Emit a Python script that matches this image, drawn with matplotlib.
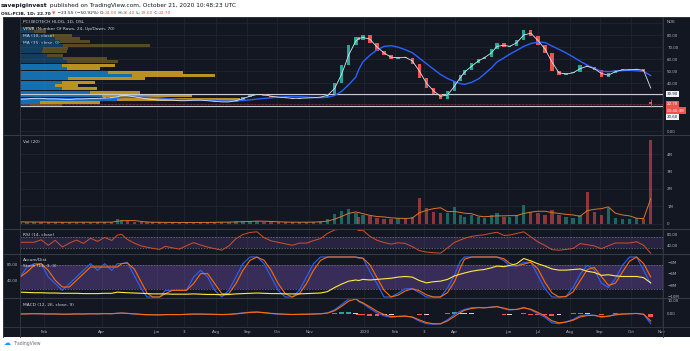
import numpy as np
import pandas as pd
import matplotlib
matplotlib.use("Agg")
import matplotlib.pyplot as plt
from matplotlib.transforms import blended_transform_factory
from matplotlib.lines import Line2D
from matplotlib.patches import Rectangle

# ---------------- data (weekly samples) ----------------
WEEK_START = "2019-01-11"
WEEK_END = "2020-10-16"
LAST_DATE = "2020-10-21"

CLOSE = [
    26.5, 27.0, 27.5,
    27.0, 26.5, 27.0, 26.0,
    26.5, 27.0, 26.5, 27.5, 27.0,
    28.0, 27.5, 29.5, 30.0,
    29.0, 28.0, 27.0, 26.5, 26.0,
    25.5, 26.0, 25.5, 25.0,
    25.5, 26.0, 25.5, 25.0,
    24.5, 24.0, 24.5, 26.0, 28.0,
    30.0, 31.0, 29.5, 28.5,
    28.0, 27.5, 27.0, 27.5,
    27.5, 28.0, 28.5, 31.0, 40.0,
    55.0, 72.0, 78.0, 76.0,
    80.0, 73.0, 67.0, 63.0, 60.0,
    62.0, 61.0, 56.0, 44.0,
    36.0, 31.0, 27.0, 33.0,
    42.0, 47.0, 51.0, 57.0,
    60.0, 62.0, 68.0, 73.0, 70.0,
    71.0, 76.0, 84.0, 79.0,
    72.0, 65.0, 50.0, 47.0, 48.0,
    49.0, 55.0, 53.0, 51.0,
    45.0, 48.0, 51.0, 51.0,
    51.0, 52.0, 49.0, 22.7,
]
FIRST_OPEN = 26.0
LAST_OHLC = (24.00, 26.40, 19.60, 22.70)

VOLUME_M = [
    0.12, 0.10, 0.11,
    0.09, 0.10, 0.09, 0.10,
    0.09, 0.11, 0.09, 0.10, 0.09,
    0.12, 0.10, 0.30, 0.22,
    0.14, 0.11, 0.10, 0.09, 0.09,
    0.09, 0.08, 0.09, 0.08,
    0.09, 0.08, 0.09, 0.09,
    0.10, 0.12, 0.10, 0.14, 0.16,
    0.18, 0.16, 0.12, 0.11,
    0.10, 0.10, 0.09, 0.10,
    0.11, 0.12, 0.14, 0.28, 0.55,
    0.75, 0.85, 0.60, 0.40,
    0.50, 0.45, 0.35, 0.30, 0.30,
    0.35, 0.30, 0.40, 1.50,
    0.90, 0.70, 0.60, 0.60,
    0.95, 0.50, 0.40, 0.50,
    0.40, 0.35, 0.50, 0.60, 0.40,
    0.40, 0.50, 1.10, 0.70,
    0.60, 0.50, 0.80, 0.50, 0.40,
    0.35, 0.50, 1.80, 0.70,
    0.50, 0.90, 0.35, 0.30,
    0.30, 0.35, 0.30, 4.80,
]

ACCUM_DIST_M = [
    -9.20, -9.25, -9.30,
    -9.30, -9.35, -9.35, -9.40,
    -9.40, -9.40, -9.45, -9.45, -9.45,
    -9.40, -9.40, -9.20, -9.25,
    -9.30, -9.35, -9.40, -9.45, -9.50,
    -9.50, -9.50, -9.55, -9.55,
    -9.55, -9.50, -9.55, -9.60,
    -9.60, -9.65, -9.60, -9.50, -9.45,
    -9.40, -9.35, -9.40, -9.45,
    -9.45, -9.50, -9.50, -9.50,
    -9.45, -9.40, -9.35, -9.10, -8.40,
    -7.80, -7.30, -7.10, -7.20,
    -7.00, -7.10, -7.00, -6.90, -6.80,
    -6.60, -6.50, -6.60, -7.20,
    -7.60, -7.40, -7.30, -7.00,
    -6.40, -6.10, -5.90, -5.60,
    -5.40, -5.30, -5.00, -4.70, -4.80,
    -4.60, -4.30, -3.40, -3.80,
    -4.30, -4.70, -5.20, -5.40, -5.40,
    -5.30, -5.20, -5.60, -5.80,
    -6.30, -6.20, -6.40, -6.50,
    -6.50, -6.50, -6.70, -7.60,
]

# Visible-range volume profile: 24 rows, bottom to top
VP_LOW, VP_HIGH = 19.6, 87.0
VP_UP = [10, 20, 97, 82, 70, 42, 35, 42, 48, 112, 88, 47, 42, 47, 43, 27, 22, 23, 43, 40, 35, 30, 14, 8]
VP_DOWN = [32, 60, 123, 90, 50, 35, 23, 33, 77, 83, 75, 33, 53, 51, 44, 16, 25, 25, 87, 30, 25, 22, 12, 6]
VA_ROWS = (1, 12)

HLINES = [30.90, 20.60]

HOLIDAYS = ['2019-04-18', '2019-04-19', '2019-04-22', '2019-05-01', '2019-05-17', '2019-05-30',
            '2019-06-10', '2019-12-24', '2019-12-25', '2019-12-26', '2019-12-31', '2020-01-01',
            '2020-04-09', '2020-04-10', '2020-04-13', '2020-05-01', '2020-05-21', '2020-06-01']

TICK_DATES = ['2019-02-01', '2019-04-01', '2019-06-01', '2019-07-01', '2019-08-01', '2019-09-01',
              '2019-10-01', '2019-11-01', '2020-01-01', '2020-02-01', '2020-03-01', '2020-04-01',
              '2020-06-01', '2020-07-01', '2020-08-01', '2020-09-01', '2020-10-01', '2020-11-01']
TICK_LABELS = ['Feb', 'Apr', 'Jun', '3', 'Aug', 'Sep', 'Oct', 'Nov', '2020', 'Feb', '3', 'Apr',
               'Jun', 'Jul', 'Aug', 'Sep', 'Oct', 'Nov']

# ---------------- figure helpers ----------------
W, H = 690, 351
fig = plt.figure(figsize=(6.9, 3.51), dpi=100, facecolor='white')


def fx(px):
    return px / W


def fy(py):
    return 1 - py / H


BG = '#131722'
GRID = '#232733'
SEP = '#363a45'
TXT = '#b2b5be'
LEG = '#d1d4dc'
GREEN = '#26a69a'
RED = '#ef5350'
AXFS = 2.9

fig.patches.append(Rectangle((fx(3), fy(337)), fx(690) - fx(3), fy(17) - fy(337),
                             transform=fig.transFigure, facecolor=BG, edgecolor='none', zorder=-5))

PL, PR = 20, 663


def add_pane(top, bot):
    ax = fig.add_axes([fx(PL), fy(bot), fx(PR) - fx(PL), fy(top) - fy(bot)])
    ax.set_facecolor('none')
    for s in ax.spines.values():
        s.set_visible(False)
    ax.tick_params(length=0, labelsize=AXFS, colors=TXT, pad=3)
    ax.yaxis.tick_right()
    return ax


# ---------------- x coordinates (trading-bar index) ----------------
dates = np.array(list(pd.date_range(WEEK_START, WEEK_END, freq='W-FRI').strftime('%Y-%m-%d')) + [LAST_DATE],
                 dtype='datetime64[D]')
x = np.busday_count(np.datetime64('2019-02-01'), dates, holidays=HOLIDAYS).astype(float)
xc = x.copy()
xc[:-1] -= 2.0  # centre weekly candle mid-week
xt = np.busday_count(np.datetime64('2019-02-01'), np.array(TICK_DATES, dtype='datetime64[D]'),
                     holidays=HOLIDAYS).astype(float)
n_nov = xt[-1]
S = (662 - 44) / n_nov
XLIM = (-24 / S, n_nov + 1 / S)

c = pd.Series(CLOSE, dtype=float)
o = c.shift(1).fillna(FIRST_OPEN).values.copy()
o[-1] = LAST_OHLC[0]
cl = c.values
up = cl >= o

# ---------------- panes ----------------
ax_p = add_pane(17, 134.5)
ax_v = add_pane(135, 229)
ax_r = add_pane(229, 254)
ax_s = add_pane(254, 298)
ax_m = add_pane(298, 327)
panes = [ax_p, ax_v, ax_r, ax_s, ax_m]

for ax in panes:
    ax.set_xlim(*XLIM)
    ax.set_xticks(xt)
    ax.grid(True, axis='x', color=GRID, lw=0.5)
    ax.set_axisbelow(True)
    if ax is not ax_m:
        ax.set_xticklabels([])
ax_m.set_xticklabels(TICK_LABELS)
ax_m.tick_params(axis='x', pad=2.2)

# ---- price pane ----
ax_p.set_ylim(-2.9, 95)
yt = np.arange(0, 100, 10)
ax_p.set_yticks(yt)
ax_p.set_yticklabels(['0.00', '', '', '', '40.00', '50.00', '60.00', '70.00', '80.00', ''])
ax_p.grid(True, axis='y', color=GRID, lw=0.5)

# volume profile (behind candles)
trans = blended_transform_factory(ax_p.transAxes, ax_p.transData)
row_h = (VP_HIGH - VP_LOW) / len(VP_UP)
tot = np.array(VP_UP) + np.array(VP_DOWN)
scale = 0.342 / tot.max()
for i, (u, d) in enumerate(zip(VP_UP, VP_DOWN)):
    lo = VP_LOW + i * row_h
    inva = VA_ROWS[0] <= i <= VA_ROWS[1]
    a = 0.72 if inva else 0.3
    ax_p.add_patch(Rectangle((0, lo + 0.15), u * scale, row_h - 0.3, transform=trans,
                             facecolor='#1592e6', alpha=a, lw=0, zorder=1))
    ax_p.add_patch(Rectangle((u * scale, lo + 0.15), d * scale, row_h - 0.3, transform=trans,
                             facecolor='#fbc123', alpha=a, lw=0, zorder=1))

for h in HLINES:
    ax_p.axhline(h, color='#c8cad0', lw=0.8, zorder=2)
ax_p.axhline(LAST_OHLC[3], color=RED, lw=0.5, ls=(0, (1, 1)), zorder=2, alpha=0.8)

ma_fast = c.rolling(2, min_periods=1).mean()
ma_slow = c.rolling(8, min_periods=1).mean()

body_lo = np.minimum(o, cl)
body_h = np.maximum(np.abs(cl - o), 0.35)
ax_p.bar(xc, body_h, bottom=body_lo, width=2.4, color=np.where(up, GREEN, RED), lw=0, zorder=3)
ax_p.vlines(xc[-1], LAST_OHLC[2], LAST_OHLC[1], color=RED, lw=0.5, zorder=3)
ax_p.plot(xc, ma_slow, color='#2962ff', lw=1.0, zorder=4)
ax_p.plot(xc, ma_fast, color='#e0e3eb', lw=0.6, zorder=5)

# ---- volume pane ----
ax_v.set_ylim(-0.29, 5.09)
ax_v.set_yticks([0, 1, 2, 3, 4])
ax_v.set_yticklabels(['0', '1M', '2M', '3M', '4M'])
ax_v.grid(True, axis='y', color=GRID, lw=0.5)
vol = np.array(VOLUME_M)
ax_v.bar(xc, vol, width=2.4, color=np.where(up, GREEN, RED), alpha=0.55, lw=0, zorder=3)
vma = pd.Series(vol).rolling(4, min_periods=1).mean()
ax_v.plot(xc, vma, color='#d9772b', lw=0.7, zorder=4)

# ---- RSI pane ----
delta = c.diff().fillna(0)
gain = delta.clip(lower=0).ewm(alpha=1 / 5, adjust=False).mean()
loss = (-delta.clip(upper=0)).ewm(alpha=1 / 5, adjust=False).mean()
rsi = 100 - 100 / (1 + gain / loss.replace(0, np.nan))
rsi = rsi.fillna(50)
ax_r.set_ylim(7.3, 98.2)
ax_r.set_yticks([40, 80])
ax_r.set_yticklabels(['40.00', '80.00'])
ax_r.axhspan(30, 70, color='#7e57c2', alpha=0.2, lw=0, zorder=1)
for lvl in (30, 70):
    ax_r.axhline(lvl, color='#787b86', lw=0.5, ls=(0, (2, 2)), zorder=2)
ax_r.plot(xc, rsi, color='#d4502a', lw=0.7, zorder=3)

# ---- Accum/Dist + Stoch pane ----
lo4 = c.rolling(4, min_periods=1).min()
hi4 = c.rolling(4, min_periods=1).max()
raw = (100 * (c - lo4) / (hi4 - lo4).replace(0, np.nan)).fillna(50)
k = raw.rolling(3, min_periods=1).mean()
d = k.rolling(2, min_periods=1).mean()
ax_s.set_ylim(-2.5, 107.5)
ax_s.yaxis.tick_left()
ax_s.set_yticks([40, 80])
ax_s.set_yticklabels(['40.00', '80.00'])
ax_s.tick_params(axis='y', pad=1.6)
ax_s.axhspan(20, 80, color='#7e57c2', alpha=0.35, lw=0, zorder=1)
for lvl in (20, 80):
    ax_s.axhline(lvl, color='#787b86', lw=0.5, ls=(0, (2, 2)), zorder=2)
ax_s.plot(xc, k, color='#2962ff', lw=0.8, zorder=3)
ax_s.plot(xc, d, color='#ff6d00', lw=0.8, zorder=3)

ax_ad = ax_s.twinx()
ax_ad.set_facecolor('none')
for s in ax_ad.spines.values():
    s.set_visible(False)
ax_ad.set_ylim(-10.21, -2.62)
ax_ad.set_yticks([-10, -8, -6, -4])
ax_ad.set_yticklabels(['\u221210M', '\u22128M', '\u22126M', '\u22124M'])
ax_ad.tick_params(length=0, labelsize=AXFS, colors=TXT, pad=3)
ax_ad.plot(xc, ACCUM_DIST_M, color='#ffeb3b', lw=0.8)
ax_ad.set_xlim(*XLIM)

# ---- MACD pane ----
ema_f = c.ewm(span=12 / 5, adjust=False).mean()
ema_s = c.ewm(span=26 / 5, adjust=False).mean()
macd = ema_f - ema_s
sig = macd.ewm(span=9 / 5, adjust=False).mean()
hist = (macd - sig).values
prev = np.r_[0, hist[:-1]]
hcol = np.where(hist >= 0, np.where(hist >= prev, '#26a69a', '#b2dfdb'),
                np.where(hist < prev, '#ff5252', '#ffcdd2'))
ax_m.set_ylim(-10.0, 12.3)
ax_m.set_yticks([0, 10])
ax_m.set_yticklabels(['0.00', '10.00'])
ax_m.bar(xc, hist, width=3.5, color=hcol, lw=0, zorder=2)
ax_m.plot(xc, macd, color='#2962ff', lw=0.8, zorder=3)
ax_m.plot(xc, sig, color='#ff6d00', lw=0.8, zorder=3)

# ---------------- separators ----------------
for yy in (134.5, 229, 254, 298):
    fig.add_artist(Line2D([fx(3), fx(690)], [fy(yy), fy(yy)], color=SEP, lw=0.8))
fig.add_artist(Line2D([fx(3), fx(690)], [fy(327), fy(327)], color=SEP, lw=0.6))
fig.add_artist(Line2D([fx(PR), fx(PR)], [fy(17), fy(337)], color=SEP, lw=0.6))
fig.add_artist(Line2D([fx(PL), fx(PL)], [fy(17), fy(337)], color=SEP, lw=0.6))
fig.add_artist(Line2D([fx(3), fx(3)], [fy(17), fy(337)], color=SEP, lw=0.6))
fig.add_artist(Line2D([fx(3), fx(690)], [fy(17), fy(17)], color=SEP, lw=0.6))

# ---------------- texts ----------------
renderer = fig.canvas.get_renderer()


def seq_text(x_px, y_px, pieces, size):
    xx = fx(x_px)
    for s, col, wt in pieces:
        t = fig.text(xx, fy(y_px), s, fontsize=size, color=col, fontweight=wt, va='center', ha='left')
        bb = t.get_window_extent(renderer=renderer)
        xx = bb.x1 / fig.bbox.width


def fit_size(s, target_px, base=4.0, weight='normal'):
    t = fig.text(0, 0, s, fontsize=base, fontweight=weight)
    wpx = t.get_window_extent(renderer=renderer).width
    t.remove()
    return base * target_px / wpx


DARK = '#131722'
h1 = "savepiginvest published on TradingView.com, October 21, 2020 10:48:23 UTC"
fs1 = fit_size(h1, 224)
seq_text(1, 5, [("savepiginvest", DARK, 'bold'),
                (" published on TradingView.com, October 21, 2020 10:48:23 UTC", DARK, 'normal')], fs1)
h2 = "OSL:PCIB, 1D: 22.70 \u25bc \u221223.55 (\u221250.92%) O:24.00 H:26.40 L:19.60 C:22.70"
fs2 = fit_size(h2, 162)
seq_text(1, 13.5, [("OSL:PCIB, 1D: 22.70 ", DARK, 'bold'), ("\u25bc", RED, 'normal'),
                   (" \u221223.55 (\u221250.92%) O:", DARK, 'normal'), ("24.00", RED, 'normal'),
                   (" H:", DARK, 'normal'), ("26.40", RED, 'normal'),
                   (" L:", DARK, 'normal'), ("19.60", RED, 'normal'),
                   (" C:", DARK, 'normal'), ("22.70", RED, 'normal')], fs2)

lfs = fit_size("VPVR (Number Of Rows, 24, Up/Down, 70)", 91)
legend_items = [(22, "PCI BIOTECH HLDG, 1D, OSL"), (29, "VPVR (Number Of Rows, 24, Up/Down, 70)"),
                (36, "MA (10, close)"), (43, "MA (35, close, 0)"), (142, "Vol (20)"),
                (235, "RSI (14, close)"), (260, "Accum/Dist"), (266, "Stoch (14, 3, 3)"),
                (305, "MACD (12, 26, close, 9)")]
for yy, s in legend_items:
    fig.text(fx(23), fy(yy), s, fontsize=lfs, color=LEG, va='center', ha='left', zorder=10)


def badge(y_px, s, fc, tc):
    fig.text(fx(667), fy(y_px), s, fontsize=AXFS, color=tc, va='center', ha='left', zorder=10,
             bbox=dict(boxstyle='square,pad=0.25', fc=fc, ec='none'))


badge(22, "NOK", BG, TXT)
badge(94, "30.90", '#f0f3fa', DARK)
badge(104, "22.70", RED, 'white')
badge(110.5, "03:40:38", RED, 'white')
badge(117, "20.60", '#f0f3fa', DARK)

fig.text(fx(4), fy(343), "\u2601", fontsize=5, color='#2196f3', va='center', ha='left')
fig.text(fx(13), fy(343), "TradingView", fontsize=3.3, color='#6a6d78', va='center', ha='left')

fig.savefig("out.png", dpi=100, facecolor='white')
